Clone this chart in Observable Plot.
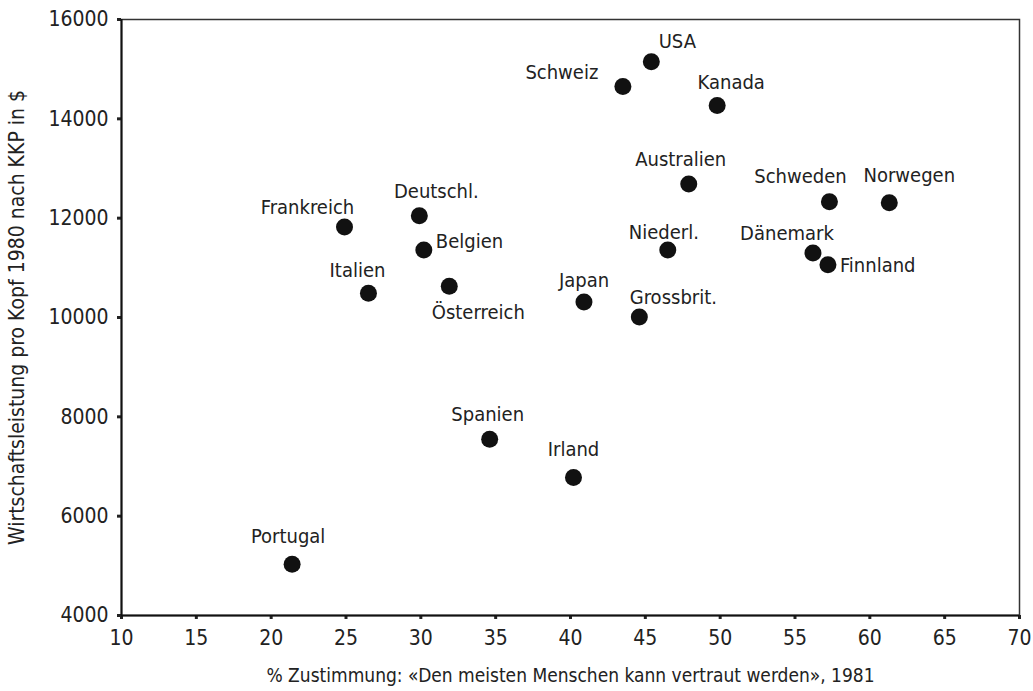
<!DOCTYPE html>
<html><head><meta charset="utf-8">
<script src="https://cdn.jsdelivr.net/npm/d3@7"></script>
<script src="https://cdn.jsdelivr.net/npm/@observablehq/plot@0.6"></script>
<style>
body{margin:0;background:#fff}
#chart svg{font-family:"Liberation Sans Narrow","DejaVu Sans Condensed","Arial Narrow",sans-serif;background:#fff}
</style>
</head><body><div id="chart"></div>
<script>
const countries = ["Portugal","Frankreich","Italien","Deutschl.","Belgien","Österreich","Spanien","Irland","Japan","Grossbrit.","Schweiz","USA","Kanada","Australien","Niederl.","Dänemark","Finnland","Schweden","Norwegen"];
const trust = [21.4, 24.9, 26.5, 29.9, 30.2, 31.9, 34.6, 40.2, 40.9, 44.6, 43.5, 45.4, 49.8, 47.9, 46.5, 56.2, 57.2, 57.3, 61.3];
const gdp = [5030, 11820, 10490, 12050, 11360, 10630, 7550, 6780, 10310, 10010, 14650, 15150, 14270, 12690, 11360, 11300, 11060, 12330, 12310];
const xTicks = [10,15,20,25,30,35,40,45,50,55,60,65,70];
const yTicks = [4000,6000,8000,10000,12000,14000,16000];
const xLabel = "% Zustimmung: «Den meisten Menschen kann vertraut werden», 1981";
const yLabel = "Wirtschaftsleistung pro Kopf 1980 nach KKP in $";

// label placement (layout only): [dx, dy, textAnchor]
const labelPlacement = {
  "Portugal":[-4,-28,"middle"], "Frankreich":[-37,-20,"middle"], "Italien":[-11,-23,"middle"],
  "Deutschl.":[17,-24,"middle"], "Belgien":[12,-8,"start"], "Österreich":[29,26,"middle"],
  "Spanien":[-2,-25,"middle"], "Irland":[0,-28,"middle"], "Japan":[0,-22,"middle"],
  "Grossbrit.":[34,-19,"middle"], "Schweiz":[-61,-14,"middle"], "USA":[26,-20,"middle"],
  "Kanada":[14,-23,"middle"], "Australien":[-8,-24,"middle"], "Niederl.":[-4,-17,"middle"],
  "Dänemark":[-26,-19,"middle"], "Finnland":[12,1,"start"], "Schweden":[-29,-25,"middle"],
  "Norwegen":[20,-27,"middle"]
};

const data = countries.map((c,i) => ({country:c, x:trust[i], y:gdp[i]}));

const labelMarks = data.map(d => {
  const [dx, dy, anchor] = labelPlacement[d.country];
  return Plot.text([d], {x:"x", y:"y", text:"country", dx, dy, textAnchor:anchor, fontSize:20, fill:"#222"});
});

const chart = Plot.plot({
  width: 1033,
  height: 691,
  marginLeft: 121,
  marginRight: 14,
  marginTop: 19,
  marginBottom: 76,
  style: {fontSize: "21px", color:"#222", background:"#fff"},
  x: {domain:[10,70]},
  y: {domain:[4000,16000]},
  marks: [
    Plot.frame({stroke:"#333", strokeWidth:1.5}),
    Plot.axisX({ticks:xTicks, tickFormat:d=>String(d), tickSize:4, strokeWidth:3, tickPadding:11, fontSize:21, label:null}),
    Plot.text([xLabel], {frameAnchor:"bottom", dy:66, fontSize:19, fill:"#222"}),
    Plot.axisY({ticks:yTicks, tickFormat:d=>String(d), tickSize:4, strokeWidth:3, tickPadding:9, fontSize:21,
      label:yLabel, labelAnchor:"center", labelArrow:"none", labelOffset:112}),
    Plot.ruleX([10], {stroke:"#111", strokeWidth:2}),
    Plot.ruleY([4000], {stroke:"#111", strokeWidth:2}),
    Plot.dot(data, {x:"x", y:"y", r:8.5, fill:"#111", stroke:"none"}),
    ...labelMarks
  ]
});
document.getElementById("chart").append(chart);
</script>
</body></html>
